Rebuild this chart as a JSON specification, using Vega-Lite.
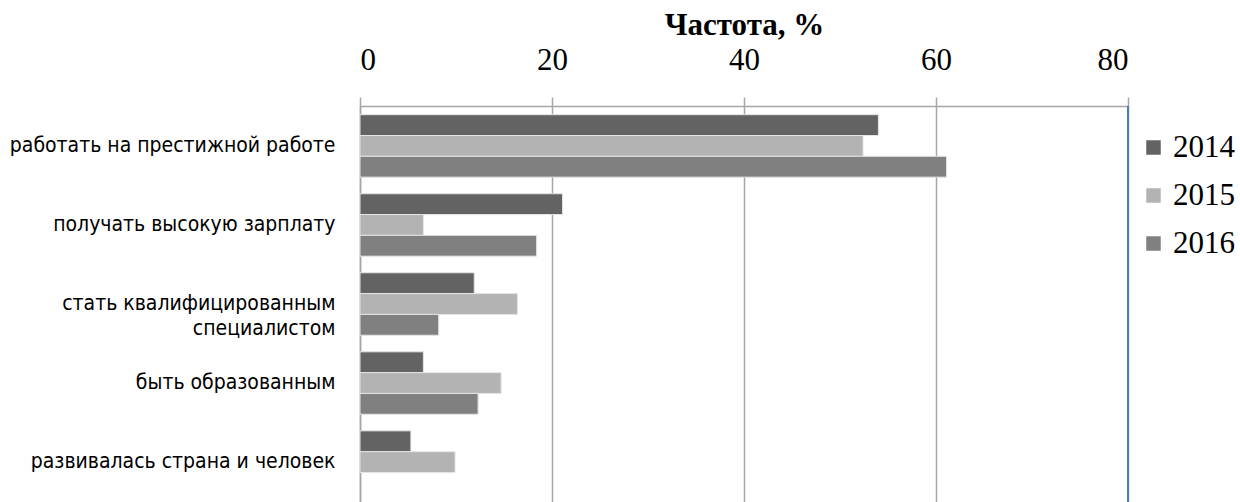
{
  "$schema": "https://vega.github.io/schema/vega-lite/v6.json",
  "width": 768,
  "height": 396,
  "autosize": {"type": "none"},
  "padding": {"left": 360, "top": 106, "right": 112, "bottom": 0},
  "background": "white",
  "config": {"view": {"stroke": null}},
  "data": {"values": [
    {"cat": "работать на престижной работе", "year": "2014", "v": 54.0},
    {"cat": "работать на престижной работе", "year": "2015", "v": 52.4},
    {"cat": "работать на престижной работе", "year": "2016", "v": 61.1},
    {"cat": "получать высокую зарплату", "year": "2014", "v": 21.1},
    {"cat": "получать высокую зарплату", "year": "2015", "v": 6.6},
    {"cat": "получать высокую зарплату", "year": "2016", "v": 18.4},
    {"cat": "стать квалифицированным специалистом", "year": "2014", "v": 11.9},
    {"cat": "стать квалифицированным специалистом", "year": "2015", "v": 16.4},
    {"cat": "стать квалифицированным специалистом", "year": "2016", "v": 8.2},
    {"cat": "быть образованным", "year": "2014", "v": 6.6},
    {"cat": "быть образованным", "year": "2015", "v": 14.7},
    {"cat": "быть образованным", "year": "2016", "v": 12.3},
    {"cat": "развивалась страна и человек", "year": "2014", "v": 5.3},
    {"cat": "развивалась страна и человек", "year": "2015", "v": 9.9}
  ]},
  "layer": [
    {
      "mark": {"type": "bar", "stroke": "#e4e4e4", "strokeWidth": 1},
      "encoding": {
        "x": {
          "field": "v", "type": "quantitative",
          "scale": {"domain": [0, 80], "nice": false},
          "axis": {
            "orient": "top", "values": [0, 20, 40, 60, 80],
            "title": "Частота, %",
            "titleFont": "Liberation Serif", "titleFontSize": 31, "titleFontWeight": "bold", "titleColor": "#000",
            "titlePadding": 3,
            "labelFont": "Liberation Serif", "labelFontSize": 31, "labelColor": "#000", "labelPadding": 21,
            "grid": true, "gridColor": "#a6a6a6", "gridWidth": 1.5,
            "tickColor": "#a6a6a6", "tickSize": 9, "tickWidth": 1.5,
            "domainColor": "#a6a6a6", "domainWidth": 1.5
          }
        },
        "y": {
          "field": "cat", "type": "nominal", "sort": null,
          "scale": {"paddingInner": 0.21, "paddingOuter": 0.11},
          "axis": {
            "title": null, "ticks": false,
            "labelFont": "DejaVu Sans Condensed, Liberation Sans, sans-serif", "labelFontSize": 21, "labelFontWeight": 500, "labelColor": "#000",
            "labelPadding": 25, "labelLimit": 400, "labelLineHeight": 25,
            "labelExpr": "datum.value == 'стать квалифицированным специалистом' ? ['стать квалифицированным', 'специалистом'] : datum.value",
            "domainColor": "#a6a6a6", "domainWidth": 1.5
          }
        },
        "yOffset": {"field": "year", "type": "nominal", "sort": ["2014", "2015", "2016"]},
        "color": {
          "field": "year", "type": "nominal",
          "scale": {"domain": ["2014", "2015", "2016"], "range": ["#636363", "#b3b3b3", "#808080"]},
          "legend": {
            "title": null, "orient": "none", "legendX": 778, "legendY": 26,
            "symbolType": "square", "symbolSize": 210, "symbolStrokeWidth": 0,
            "labelFont": "Liberation Serif", "labelFontSize": 31, "labelColor": "#000",
            "rowPadding": 16, "labelOffset": 4
          }
        }
      }
    },
    {
      "mark": {"type": "rule", "color": "#4a7ebb", "strokeWidth": 1.5},
      "encoding": {"x": {"datum": 80, "type": "quantitative"}}
    }
  ]
}
